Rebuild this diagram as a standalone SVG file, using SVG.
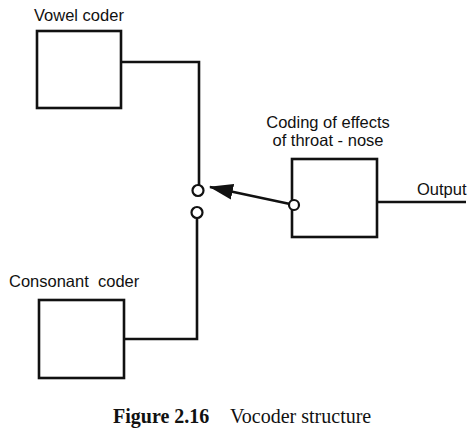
<svg xmlns="http://www.w3.org/2000/svg" width="475" height="432" viewBox="0 0 475 432">
<style>
.box{fill:none;stroke:#111;stroke-width:2.6}
.wire{fill:none;stroke:#111;stroke-width:2.6}
.term{fill:#fff;stroke:#111;stroke-width:2.2}
.lbl{font-family:"Liberation Sans",Arial,sans-serif;font-size:16.5px;fill:#111}
.cap{font-family:"Liberation Serif","Times New Roman",serif;font-size:20px;fill:#111}
</style>
<defs>
<marker id="ahb" viewBox="0 0 24 16" refX="23" refY="8" markerWidth="24" markerHeight="16" orient="auto" markerUnits="userSpaceOnUse">
<path d="M0,0 L24,8 L0,16 Z" fill="#111"/>
</marker>
</defs>
<g id="connectors">
<path class="wire" d="M121,62 H199 V185"/>
<path class="wire" d="M124,339 H197 V218"/>
<path class="wire" d="M377,202 H466"/>
<line class="wire" x1="290" y1="204" x2="210" y2="187" marker-end="url(#ahb)"/>
</g>
<g id="vowel-coder">
<rect class="box" x="37" y="31" width="84" height="77"/>
<text class="lbl" x="34" y="21">Vowel coder</text>
</g>
<g id="consonant-coder">
<rect class="box" x="39" y="300" width="85" height="78"/>
<text class="lbl" x="9" y="287" xml:space="preserve">Consonant  coder</text>
</g>
<g id="throat-nose">
<rect class="box" x="292" y="159" width="85" height="78"/>
<text class="lbl" x="328" y="128" text-anchor="middle" font-size="16px">Coding of effects</text>
<text class="lbl" x="328" y="146" text-anchor="middle" font-size="16px">of throat - nose</text>
<circle class="term" cx="294" cy="205" r="5"/>
</g>
<g id="switch">
<circle class="term" cx="198" cy="190.5" r="5.5"/>
<circle class="term" cx="197" cy="212.5" r="5.5"/>
</g>
<g id="output">
<text class="lbl" x="417" y="195">Output</text>
</g>
<g id="caption">
<text class="cap" x="113" y="423"><tspan font-weight="bold">Figure 2.16</tspan><tspan x="230">Vocoder structure</tspan></text>
</g>
</svg>
